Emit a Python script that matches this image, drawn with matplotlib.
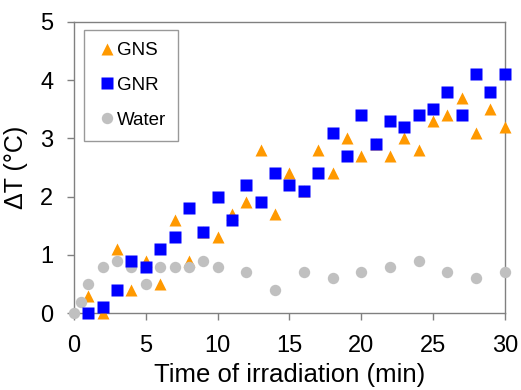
import numpy as np
from matplotlib import pyplot as plt

plt.rcParams['font.family'] = ['Liberation Sans', 'DejaVu Sans']

# GNS (orange triangles)
t_gns = list(range(1, 31))
dt_gns = [0.3, 0.0, 1.1, 0.4, 0.9, 0.5, 1.6, 0.9, 1.4, 1.3,
          1.7, 1.9, 2.8, 1.7, 2.4, 2.1, 2.8, 2.4, 3.0, 2.7,
          2.9, 2.7, 3.0, 2.8, 3.3, 3.4, 3.7, 3.1, 3.5, 3.2]

# GNR (blue squares)
t_gnr = list(range(1, 31))
dt_gnr = [0.0, 0.1, 0.4, 0.9, 0.8, 1.1, 1.3, 1.8, 1.4, 2.0,
          1.6, 2.2, 1.9, 2.4, 2.2, 2.1, 2.4, 3.1, 2.7, 3.4,
          2.9, 3.3, 3.2, 3.4, 3.5, 3.8, 3.4, 4.1, 3.8, 4.1]

# Water (grey circles)
t_water = [0, 0.5, 1, 2, 3, 4, 5, 6, 7, 8, 9, 10, 12, 14, 16, 18, 20, 22, 24, 26, 28, 30]
dt_water = [0.0, 0.2, 0.5, 0.8, 0.9, 0.8, 0.5, 0.8, 0.8, 0.8, 0.9, 0.8,
            0.7, 0.4, 0.7, 0.6, 0.7, 0.8, 0.9, 0.7, 0.6, 0.7]

fig = plt.figure(figsize=(5.21, 3.90), dpi=100)
ax = fig.add_axes([0.142, 0.197, 0.827, 0.747])

# stacking: triangles under circles, squares on top
ax.plot(t_gns, dt_gns, linestyle='none', marker='^', ms=8.8,
        color='#FF9900', mec='none', label='GNS', clip_on=False, zorder=3)
ax.plot(t_gnr, dt_gnr, linestyle='none', marker='s', ms=8.4,
        color='#0000FF', mec='none', label='GNR', clip_on=False, zorder=5)
ax.plot(t_water, dt_water, linestyle='none', marker='o', ms=8.2,
        color='#C0C0C0', mec='none', label='Water', clip_on=False, zorder=4)

ax.set_xlim(0, 30)
ax.set_ylim(0, 5)
ax.set_xticks(np.arange(0, 31, 5))
ax.set_yticks(np.arange(0, 6, 1))

for s in ax.spines.values():
    s.set_color('#808080')
    s.set_linewidth(1.0)
ax.tick_params(axis='both', colors='#808080', labelcolor='black',
               labelsize=17, length=5, width=1.0, direction='out')
ax.tick_params(axis='x', pad=11)
ax.tick_params(axis='y', pad=10)

ax.set_xlabel('Time of irradiation (min)', fontsize=18.5, labelpad=4)
ax.set_ylabel('ΔT (°C)', fontsize=18)
ax.yaxis.set_label_coords(-0.107, 0.5)

leg = ax.legend(loc='upper left', bbox_to_anchor=(0.023, 0.972),
                fontsize=13.5, frameon=True, fancybox=False,
                handlelength=1.2, handletextpad=-0.1, labelspacing=0.94,
                borderpad=0.64, borderaxespad=0.0)
leg.get_frame().set_edgecolor('#808080')
leg.get_frame().set_linewidth(1.0)
leg.set_zorder(6)

plt.savefig('out.png', dpi=100)
